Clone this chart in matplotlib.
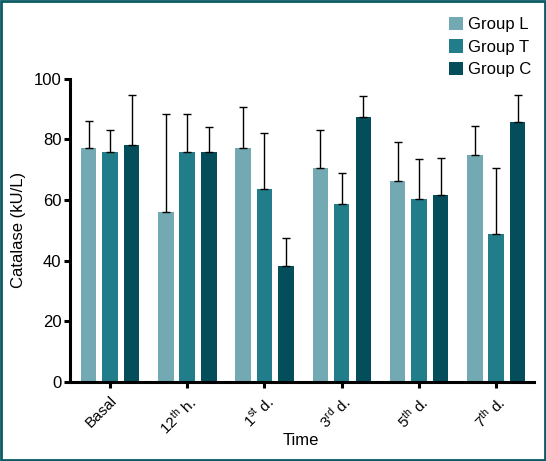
import numpy as np
import matplotlib.pyplot as plt
from matplotlib.patches import Rectangle

plt.rcParams['font.family'] = ['Liberation Sans', 'DejaVu Sans']
plt.rcParams['mathtext.fontset'] = 'custom'
plt.rcParams['mathtext.rm'] = 'Liberation Sans'
plt.rcParams['mathtext.it'] = 'Liberation Sans'

# data
times = ["Basal", r"12$^{\mathrm{th}}$ h.", r"1$^{\mathrm{st}}$ d.", r"3$^{\mathrm{rd}}$ d.",
         r"5$^{\mathrm{th}}$ d.", r"7$^{\mathrm{th}}$ d."]
groups = ["Group L", "Group T", "Group C"]
mean_L = [77.3, 55.9, 77.3, 70.4, 66.4, 75.0]
mean_T = [76.0, 76.0, 63.5, 58.6, 60.2, 48.7]
mean_C = [78.3, 75.7, 38.2, 87.5, 61.5, 85.9]
top_L = [86.0, 88.4, 90.7, 83.1, 79.0, 84.3]   # upper end of error bar
top_T = [83.0, 88.4, 82.1, 68.9, 73.6, 70.7]
top_C = [94.8, 84.0, 47.3, 94.2, 73.9, 94.8]
colors = ["#72a9b3", "#217d89", "#034e5a"]

fig = plt.figure(figsize=(5.46, 4.61), dpi=100)
ax = fig.add_axes([0.129, 0.172, 0.849, 0.657])

x = np.arange(len(times))
offsets = [-0.275, 0.0, 0.28]
width = 0.2
for means, tops, off, col, lab in zip([mean_L, mean_T, mean_C], [top_L, top_T, top_C],
                                      offsets, colors, groups):
    means = np.array(means)
    err = np.array(tops) - means
    ax.bar(x + off, means, width=width, color=col, label=lab, zorder=2)
    ax.errorbar(x + off, means, yerr=[np.zeros_like(err), err], fmt="none",
                ecolor="black", elinewidth=1, capsize=3, capthick=1, zorder=3)

ax.set_xlim(-0.512, 5.49)
ax.set_ylim(0, 100)
ax.set_yticks(range(0, 101, 20))
ax.set_xticks(x)
ax.set_xticklabels(times, rotation=45, ha="right", rotation_mode="anchor", fontsize=11)
ax.tick_params(axis="y", labelsize=12, width=2.2, length=4.5, direction="out", pad=2)
ax.tick_params(axis="x", width=2.2, length=4.5, direction="out", pad=4)
for s in ["top", "right"]:
    ax.spines[s].set_visible(False)
for s in ["left", "bottom"]:
    ax.spines[s].set_linewidth(2.2)
ax.set_ylabel("Catalase (kU/L)", fontsize=12)
ax.yaxis.set_label_coords(-0.096, 0.5)
ax.set_xlabel("Time", fontsize=12)
ax.xaxis.set_label_coords(0.497, -0.168)

handles, labels = ax.get_legend_handles_labels()
fig.legend(handles, labels, loc="upper left", bbox_to_anchor=(449 / 546, 1 - 17 / 461),
           frameon=False, fontsize=12, handlelength=0.85, handleheight=0.85,
           handletextpad=0.3, labelspacing=0.42, borderpad=0, borderaxespad=0)

fig.add_artist(Rectangle((0.002, 0.002), 0.996, 0.996, transform=fig.transFigure,
                         fill=False, edgecolor="#0b5a64", linewidth=2))

fig.savefig("out.png", dpi=100)
